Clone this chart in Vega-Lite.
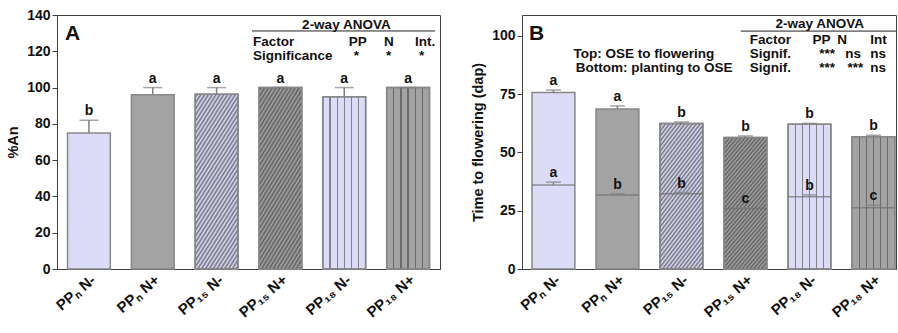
{
  "$schema": "https://vega.github.io/schema/vega-lite/v6.json",
  "padding": {"left": 5, "top": 7, "right": 0, "bottom": 0},
  "spacing": 29,
  "config": {
    "font": "Liberation Sans",
    "view": {"stroke": "#404040", "strokeWidth": 1},
    "axis": {"labelFont": "Liberation Sans", "titleFont": "Liberation Sans", "labelFontWeight": "bold", "titleFontWeight": "bold", "labelColor": "#111", "titleColor": "#111", "domainColor": "#404040", "tickColor": "#404040", "grid": false, "labelOverlap": false, "labelFlush": false},
    "axisY": {"labelFontSize": 14, "titleFontSize": 14.5, "tickSize": 5, "labelPadding": 2, "titlePadding": 6},
    "axisX": {"labelFontSize": 15, "ticks": false, "labelPadding": 3, "labelAngle": 320, "labelAlign": "right", "labelBaseline": "top"}
  },
  "datasets": {
    "a": [
      {"cat": "PPₙ N-", "pp": "PPN", "n": "N-", "v": 75, "upper": 82, "letter": "b"},
      {"cat": "PPₙ N+", "pp": "PPN", "n": "N+", "v": 96, "upper": 100, "letter": "a"},
      {"cat": "PP₁₅ N-", "pp": "PP15", "n": "N-", "v": 96.3, "upper": 100, "letter": "a"},
      {"cat": "PP₁₅ N+", "pp": "PP15", "n": "N+", "v": 100, "upper": 100, "letter": "a"},
      {"cat": "PP₁₈ N-", "pp": "PP18", "n": "N-", "v": 95, "upper": 100, "letter": "a"},
      {"cat": "PP₁₈ N+", "pp": "PP18", "n": "N+", "v": 100, "upper": 100, "letter": "a"}
    ],
    "b": [
      {"cat": "PPₙ N-", "pp": "PPN", "n": "N-", "t": 75.7, "tu": 76.8, "tl": "a", "bo": 36, "bu": 37.3, "bl": "a"},
      {"cat": "PPₙ N+", "pp": "PPN", "n": "N+", "t": 68.7, "tu": 70, "tl": "a", "bo": 31.8, "bu": 32.3, "bl": "b"},
      {"cat": "PP₁₅ N-", "pp": "PP15", "n": "N-", "t": 62.4, "tu": 63.1, "tl": "b", "bo": 32.3, "bu": 32.8, "bl": "b"},
      {"cat": "PP₁₅ N+", "pp": "PP15", "n": "N+", "t": 56.4, "tu": 57.1, "tl": "b", "bo": 26, "bu": 26.3, "bl": "c"},
      {"cat": "PP₁₈ N-", "pp": "PP18", "n": "N-", "t": 62.1, "tu": 62.5, "tl": "b", "bo": 31, "bu": 31.8, "bl": "b"},
      {"cat": "PP₁₈ N+", "pp": "PP18", "n": "N+", "t": 56.7, "tu": 57.4, "tl": "b", "bo": 26.3, "bu": 27.3, "bl": "c"}
    ],
    "annA": [
      {"x": 64.0, "y": 134.5, "t": "2-way ANOVA"},
      {"x": 51.2, "y": 125.1, "t": "Factor"},
      {"x": 76.2, "y": 125.1, "t": "PP"},
      {"x": 85.4, "y": 125.1, "t": "N"},
      {"x": 93.5, "y": 125.1, "t": "Int."},
      {"x": 51.2, "y": 117.4, "t": "Significance"},
      {"x": 77.5, "y": 117.4, "t": "*"},
      {"x": 85.9, "y": 117.4, "t": "*"},
      {"x": 94.5, "y": 117.4, "t": "*"}
    ],
    "annB": [
      {"x": 67.8, "y": 105.2, "t": "2-way ANOVA"},
      {"x": 60.9, "y": 98.3, "t": "Factor"},
      {"x": 77.7, "y": 98.3, "t": "PP"},
      {"x": 84.3, "y": 98.3, "t": "N"},
      {"x": 93.1, "y": 98.3, "t": "Int"},
      {"x": 13.8, "y": 92.3, "t": "Top: OSE to flowering"},
      {"x": 60.9, "y": 92.3, "t": "Signif."},
      {"x": 79.5, "y": 92.3, "t": "***"},
      {"x": 86.4, "y": 92.3, "t": "ns"},
      {"x": 93.1, "y": 92.3, "t": "ns"},
      {"x": 14.4, "y": 86.3, "t": "Bottom: planting to OSE"},
      {"x": 60.9, "y": 86.3, "t": "Signif."},
      {"x": 79.5, "y": 86.3, "t": "***"},
      {"x": 87.0, "y": 86.3, "t": "***"},
      {"x": 93.1, "y": 86.3, "t": "ns"}
    ]
  },
  "hconcat": [
    {
      "width": 383,
      "height": 254,
      "resolve": {"scale": {"x": "independent"}},
      "layer": [
        {
          "data": {"name": "a"},
          "encoding": {
            "x": {"field": "cat", "type": "nominal", "title": null, "scale": {"domain": ["PPₙ N-", "PPₙ N+", "PP₁₅ N-", "PP₁₅ N+", "PP₁₈ N-", "PP₁₈ N+"], "paddingInner": 0.33, "paddingOuter": 0.165}, "axis": {"labelAngle": 320, "labelAlign": "right", "labelBaseline": "top"}}
          },
          "layer": [
            {
              "mark": {"type": "bar", "stroke": "#888888", "strokeWidth": 1.5},
              "encoding": {
                "y": {"field": "v", "type": "quantitative", "title": "%An", "scale": {"domain": [0, 140], "nice": false}, "axis": {"values": [0, 20, 40, 60, 80, 100, 120, 140]}},
                "color": {"field": "n", "type": "nominal", "scale": {"domain": ["N-", "N+"], "range": ["#dcdcf9", "#a3a3a3"]}, "legend": null}
              }
            },
            {
              "transform": [{"filter": "datum.pp === 'PP15'"}],
              "mark": {"type": "bar", "stroke": "#888888", "strokeWidth": 1.5, "fill": {"gradient": "linear", "x1": 0, "y1": 0, "x2": 0.466, "y2": 1.2065, "stops": [
                {"offset": 0, "color": "rgba(60,60,60,0)"}, {"offset": 0.0125, "color": "rgba(60,60,60,0.65)"}, {"offset": 0.025, "color": "rgba(60,60,60,0)"}, {"offset": 0.0375, "color": "rgba(60,60,60,0.65)"}, {"offset": 0.05, "color": "rgba(60,60,60,0)"}, {"offset": 0.0625, "color": "rgba(60,60,60,0.65)"}, {"offset": 0.075, "color": "rgba(60,60,60,0)"}, {"offset": 0.0875, "color": "rgba(60,60,60,0.65)"}, {"offset": 0.1, "color": "rgba(60,60,60,0)"}, {"offset": 0.1125, "color": "rgba(60,60,60,0.65)"},
                {"offset": 0.125, "color": "rgba(60,60,60,0)"}, {"offset": 0.1375, "color": "rgba(60,60,60,0.65)"}, {"offset": 0.15, "color": "rgba(60,60,60,0)"}, {"offset": 0.1625, "color": "rgba(60,60,60,0.65)"}, {"offset": 0.175, "color": "rgba(60,60,60,0)"}, {"offset": 0.1875, "color": "rgba(60,60,60,0.65)"}, {"offset": 0.2, "color": "rgba(60,60,60,0)"}, {"offset": 0.2125, "color": "rgba(60,60,60,0.65)"}, {"offset": 0.225, "color": "rgba(60,60,60,0)"}, {"offset": 0.2375, "color": "rgba(60,60,60,0.65)"},
                {"offset": 0.25, "color": "rgba(60,60,60,0)"}, {"offset": 0.2625, "color": "rgba(60,60,60,0.65)"}, {"offset": 0.275, "color": "rgba(60,60,60,0)"}, {"offset": 0.2875, "color": "rgba(60,60,60,0.65)"}, {"offset": 0.3, "color": "rgba(60,60,60,0)"}, {"offset": 0.3125, "color": "rgba(60,60,60,0.65)"}, {"offset": 0.325, "color": "rgba(60,60,60,0)"}, {"offset": 0.3375, "color": "rgba(60,60,60,0.65)"}, {"offset": 0.35, "color": "rgba(60,60,60,0)"}, {"offset": 0.3625, "color": "rgba(60,60,60,0.65)"},
                {"offset": 0.375, "color": "rgba(60,60,60,0)"}, {"offset": 0.3875, "color": "rgba(60,60,60,0.65)"}, {"offset": 0.4, "color": "rgba(60,60,60,0)"}, {"offset": 0.4125, "color": "rgba(60,60,60,0.65)"}, {"offset": 0.425, "color": "rgba(60,60,60,0)"}, {"offset": 0.4375, "color": "rgba(60,60,60,0.65)"}, {"offset": 0.45, "color": "rgba(60,60,60,0)"}, {"offset": 0.4625, "color": "rgba(60,60,60,0.65)"}, {"offset": 0.475, "color": "rgba(60,60,60,0)"}, {"offset": 0.4875, "color": "rgba(60,60,60,0.65)"},
                {"offset": 0.5, "color": "rgba(60,60,60,0)"}, {"offset": 0.5125, "color": "rgba(60,60,60,0.65)"}, {"offset": 0.525, "color": "rgba(60,60,60,0)"}, {"offset": 0.5375, "color": "rgba(60,60,60,0.65)"}, {"offset": 0.55, "color": "rgba(60,60,60,0)"}, {"offset": 0.5625, "color": "rgba(60,60,60,0.65)"}, {"offset": 0.575, "color": "rgba(60,60,60,0)"}, {"offset": 0.5875, "color": "rgba(60,60,60,0.65)"}, {"offset": 0.6, "color": "rgba(60,60,60,0)"}, {"offset": 0.6125, "color": "rgba(60,60,60,0.65)"},
                {"offset": 0.625, "color": "rgba(60,60,60,0)"}, {"offset": 0.6375, "color": "rgba(60,60,60,0.65)"}, {"offset": 0.65, "color": "rgba(60,60,60,0)"}, {"offset": 0.6625, "color": "rgba(60,60,60,0.65)"}, {"offset": 0.675, "color": "rgba(60,60,60,0)"}, {"offset": 0.6875, "color": "rgba(60,60,60,0.65)"}, {"offset": 0.7, "color": "rgba(60,60,60,0)"}, {"offset": 0.7125, "color": "rgba(60,60,60,0.65)"}, {"offset": 0.725, "color": "rgba(60,60,60,0)"}, {"offset": 0.7375, "color": "rgba(60,60,60,0.65)"},
                {"offset": 0.75, "color": "rgba(60,60,60,0)"}, {"offset": 0.7625, "color": "rgba(60,60,60,0.65)"}, {"offset": 0.775, "color": "rgba(60,60,60,0)"}, {"offset": 0.7875, "color": "rgba(60,60,60,0.65)"}, {"offset": 0.8, "color": "rgba(60,60,60,0)"}, {"offset": 0.8125, "color": "rgba(60,60,60,0.65)"}, {"offset": 0.825, "color": "rgba(60,60,60,0)"}, {"offset": 0.8375, "color": "rgba(60,60,60,0.65)"}, {"offset": 0.85, "color": "rgba(60,60,60,0)"}, {"offset": 0.8625, "color": "rgba(60,60,60,0.65)"},
                {"offset": 0.875, "color": "rgba(60,60,60,0)"}, {"offset": 0.8875, "color": "rgba(60,60,60,0.65)"}, {"offset": 0.9, "color": "rgba(60,60,60,0)"}, {"offset": 0.9125, "color": "rgba(60,60,60,0.65)"}, {"offset": 0.925, "color": "rgba(60,60,60,0)"}, {"offset": 0.9375, "color": "rgba(60,60,60,0.65)"}, {"offset": 0.95, "color": "rgba(60,60,60,0)"}, {"offset": 0.9625, "color": "rgba(60,60,60,0.65)"}, {"offset": 0.975, "color": "rgba(60,60,60,0)"}, {"offset": 0.9875, "color": "rgba(60,60,60,0.65)"},
                {"offset": 1, "color": "rgba(60,60,60,0)"}
              ]}},
              "encoding": {"y": {"field": "v", "type": "quantitative", "title": "%An", "axis": {"values": [0, 20, 40, 60, 80, 100, 120, 140]}}}
            },
            {
              "transform": [{"filter": "datum.pp === 'PP18'"}],
              "mark": {"type": "bar", "stroke": "#888888", "strokeWidth": 1.5, "fill": {"gradient": "linear", "x1": 0, "y1": 0, "x2": 1, "y2": 0, "stops": [
                {"offset": 0, "color": "rgba(70,70,70,0)"},
                {"offset": 0.1527, "color": "rgba(70,70,70,0)"}, {"offset": 0.1527, "color": "rgba(70,70,70,0.6)"}, {"offset": 0.1807, "color": "rgba(70,70,70,0.6)"}, {"offset": 0.1807, "color": "rgba(70,70,70,0)"},
                {"offset": 0.3193, "color": "rgba(70,70,70,0)"}, {"offset": 0.3193, "color": "rgba(70,70,70,0.6)"}, {"offset": 0.3473, "color": "rgba(70,70,70,0.6)"}, {"offset": 0.3473, "color": "rgba(70,70,70,0)"},
                {"offset": 0.486, "color": "rgba(70,70,70,0)"}, {"offset": 0.486, "color": "rgba(70,70,70,0.6)"}, {"offset": 0.514, "color": "rgba(70,70,70,0.6)"}, {"offset": 0.514, "color": "rgba(70,70,70,0)"},
                {"offset": 0.6527, "color": "rgba(70,70,70,0)"}, {"offset": 0.6527, "color": "rgba(70,70,70,0.6)"}, {"offset": 0.6807, "color": "rgba(70,70,70,0.6)"}, {"offset": 0.6807, "color": "rgba(70,70,70,0)"},
                {"offset": 0.8193, "color": "rgba(70,70,70,0)"}, {"offset": 0.8193, "color": "rgba(70,70,70,0.6)"}, {"offset": 0.8473, "color": "rgba(70,70,70,0.6)"}, {"offset": 0.8473, "color": "rgba(70,70,70,0)"},
                {"offset": 1, "color": "rgba(70,70,70,0)"}
              ]}},
              "encoding": {"y": {"field": "v", "type": "quantitative", "title": "%An", "axis": {"values": [0, 20, 40, 60, 80, 100, 120, 140]}}}
            },
            {
              "mark": {"type": "rule", "color": "#808080", "strokeWidth": 1.5},
              "encoding": {"y": {"field": "v", "type": "quantitative", "title": "%An", "axis": {"values": [0, 20, 40, 60, 80, 100, 120, 140]}}, "y2": {"field": "upper"}}
            },
            {
              "mark": {"type": "tick", "color": "#808080", "thickness": 1.5, "size": 19},
              "encoding": {"y": {"field": "upper", "type": "quantitative", "title": "%An", "axis": {"values": [0, 20, 40, 60, 80, 100, 120, 140]}}}
            },
            {
              "mark": {"type": "text", "baseline": "bottom", "dy": -2, "fontSize": 14, "fontWeight": "bold", "color": "#111"},
              "encoding": {"y": {"field": "upper", "type": "quantitative", "title": "%An", "axis": {"values": [0, 20, 40, 60, 80, 100, 120, 140]}}, "text": {"field": "letter"}}
            }
          ]
        },
        {
          "layer": [
            {
              "data": {"name": "annA"},
              "mark": {"type": "text", "align": "left", "baseline": "middle", "fontSize": 13.5, "fontWeight": "bold", "color": "#111"},
              "encoding": {
                "x": {"field": "x", "type": "quantitative", "scale": {"domain": [0, 100], "nice": false, "zero": false}, "axis": null},
                "y": {"field": "y", "type": "quantitative", "title": "%An", "axis": {"values": [0, 20, 40, 60, 80, 100, 120, 140]}},
                "text": {"field": "t"}
              }
            },
            {
              "data": {"values": [{"x": 2.1, "y": 129.5, "t": "A"}]},
              "mark": {"type": "text", "align": "left", "baseline": "middle", "fontSize": 21, "fontWeight": "bold", "color": "#111"},
              "encoding": {
                "x": {"field": "x", "type": "quantitative", "scale": {"domain": [0, 100], "nice": false, "zero": false}, "axis": null},
                "y": {"field": "y", "type": "quantitative", "title": "%An", "axis": {"values": [0, 20, 40, 60, 80, 100, 120, 140]}},
                "text": {"field": "t"}
              }
            },
            {
              "data": {"values": [{"x": 50.9, "x2": 98.7, "y": 131.2}]},
              "mark": {"type": "rule", "color": "#222222", "strokeWidth": 1},
              "encoding": {
                "x": {"field": "x", "type": "quantitative", "scale": {"domain": [0, 100], "nice": false, "zero": false}, "axis": null},
                "x2": {"field": "x2"},
                "y": {"field": "y", "type": "quantitative", "title": "%An", "axis": {"values": [0, 20, 40, 60, 80, 100, 120, 140]}}
              }
            }
          ]
        }
      ]
    },
    {
      "width": 374,
      "height": 254,
      "resolve": {"scale": {"x": "independent"}},
      "layer": [
        {
          "data": {"name": "b"},
          "encoding": {
            "x": {"field": "cat", "type": "nominal", "title": null, "scale": {"domain": ["PPₙ N-", "PPₙ N+", "PP₁₅ N-", "PP₁₅ N+", "PP₁₈ N-", "PP₁₈ N+"], "paddingInner": 0.33, "paddingOuter": 0.087, "align": 0.9}, "axis": {"labelAngle": 320, "labelAlign": "right", "labelBaseline": "top"}}
          },
          "layer": [
            {
              "mark": {"type": "bar", "stroke": "#888888", "strokeWidth": 1.5},
              "encoding": {
                "y": {"field": "t", "type": "quantitative", "title": "Time to flowering (dap)", "scale": {"domain": [0, 109], "nice": false}, "axis": {"values": [0, 25, 50, 75, 100]}},
                "color": {"field": "n", "type": "nominal", "scale": {"domain": ["N-", "N+"], "range": ["#dcdcf9", "#a3a3a3"]}, "legend": null}
              }
            },
            {
              "transform": [{"filter": "datum.pp === 'PP15'"}],
              "mark": {"type": "bar", "stroke": "#888888", "strokeWidth": 1.5, "fill": {"gradient": "linear", "x1": 0, "y1": 0, "x2": 0.466, "y2": 1.2065, "stops": [
                {"offset": 0, "color": "rgba(60,60,60,0)"}, {"offset": 0.0125, "color": "rgba(60,60,60,0.65)"}, {"offset": 0.025, "color": "rgba(60,60,60,0)"}, {"offset": 0.0375, "color": "rgba(60,60,60,0.65)"}, {"offset": 0.05, "color": "rgba(60,60,60,0)"}, {"offset": 0.0625, "color": "rgba(60,60,60,0.65)"}, {"offset": 0.075, "color": "rgba(60,60,60,0)"}, {"offset": 0.0875, "color": "rgba(60,60,60,0.65)"}, {"offset": 0.1, "color": "rgba(60,60,60,0)"}, {"offset": 0.1125, "color": "rgba(60,60,60,0.65)"},
                {"offset": 0.125, "color": "rgba(60,60,60,0)"}, {"offset": 0.1375, "color": "rgba(60,60,60,0.65)"}, {"offset": 0.15, "color": "rgba(60,60,60,0)"}, {"offset": 0.1625, "color": "rgba(60,60,60,0.65)"}, {"offset": 0.175, "color": "rgba(60,60,60,0)"}, {"offset": 0.1875, "color": "rgba(60,60,60,0.65)"}, {"offset": 0.2, "color": "rgba(60,60,60,0)"}, {"offset": 0.2125, "color": "rgba(60,60,60,0.65)"}, {"offset": 0.225, "color": "rgba(60,60,60,0)"}, {"offset": 0.2375, "color": "rgba(60,60,60,0.65)"},
                {"offset": 0.25, "color": "rgba(60,60,60,0)"}, {"offset": 0.2625, "color": "rgba(60,60,60,0.65)"}, {"offset": 0.275, "color": "rgba(60,60,60,0)"}, {"offset": 0.2875, "color": "rgba(60,60,60,0.65)"}, {"offset": 0.3, "color": "rgba(60,60,60,0)"}, {"offset": 0.3125, "color": "rgba(60,60,60,0.65)"}, {"offset": 0.325, "color": "rgba(60,60,60,0)"}, {"offset": 0.3375, "color": "rgba(60,60,60,0.65)"}, {"offset": 0.35, "color": "rgba(60,60,60,0)"}, {"offset": 0.3625, "color": "rgba(60,60,60,0.65)"},
                {"offset": 0.375, "color": "rgba(60,60,60,0)"}, {"offset": 0.3875, "color": "rgba(60,60,60,0.65)"}, {"offset": 0.4, "color": "rgba(60,60,60,0)"}, {"offset": 0.4125, "color": "rgba(60,60,60,0.65)"}, {"offset": 0.425, "color": "rgba(60,60,60,0)"}, {"offset": 0.4375, "color": "rgba(60,60,60,0.65)"}, {"offset": 0.45, "color": "rgba(60,60,60,0)"}, {"offset": 0.4625, "color": "rgba(60,60,60,0.65)"}, {"offset": 0.475, "color": "rgba(60,60,60,0)"}, {"offset": 0.4875, "color": "rgba(60,60,60,0.65)"},
                {"offset": 0.5, "color": "rgba(60,60,60,0)"}, {"offset": 0.5125, "color": "rgba(60,60,60,0.65)"}, {"offset": 0.525, "color": "rgba(60,60,60,0)"}, {"offset": 0.5375, "color": "rgba(60,60,60,0.65)"}, {"offset": 0.55, "color": "rgba(60,60,60,0)"}, {"offset": 0.5625, "color": "rgba(60,60,60,0.65)"}, {"offset": 0.575, "color": "rgba(60,60,60,0)"}, {"offset": 0.5875, "color": "rgba(60,60,60,0.65)"}, {"offset": 0.6, "color": "rgba(60,60,60,0)"}, {"offset": 0.6125, "color": "rgba(60,60,60,0.65)"},
                {"offset": 0.625, "color": "rgba(60,60,60,0)"}, {"offset": 0.6375, "color": "rgba(60,60,60,0.65)"}, {"offset": 0.65, "color": "rgba(60,60,60,0)"}, {"offset": 0.6625, "color": "rgba(60,60,60,0.65)"}, {"offset": 0.675, "color": "rgba(60,60,60,0)"}, {"offset": 0.6875, "color": "rgba(60,60,60,0.65)"}, {"offset": 0.7, "color": "rgba(60,60,60,0)"}, {"offset": 0.7125, "color": "rgba(60,60,60,0.65)"}, {"offset": 0.725, "color": "rgba(60,60,60,0)"}, {"offset": 0.7375, "color": "rgba(60,60,60,0.65)"},
                {"offset": 0.75, "color": "rgba(60,60,60,0)"}, {"offset": 0.7625, "color": "rgba(60,60,60,0.65)"}, {"offset": 0.775, "color": "rgba(60,60,60,0)"}, {"offset": 0.7875, "color": "rgba(60,60,60,0.65)"}, {"offset": 0.8, "color": "rgba(60,60,60,0)"}, {"offset": 0.8125, "color": "rgba(60,60,60,0.65)"}, {"offset": 0.825, "color": "rgba(60,60,60,0)"}, {"offset": 0.8375, "color": "rgba(60,60,60,0.65)"}, {"offset": 0.85, "color": "rgba(60,60,60,0)"}, {"offset": 0.8625, "color": "rgba(60,60,60,0.65)"},
                {"offset": 0.875, "color": "rgba(60,60,60,0)"}, {"offset": 0.8875, "color": "rgba(60,60,60,0.65)"}, {"offset": 0.9, "color": "rgba(60,60,60,0)"}, {"offset": 0.9125, "color": "rgba(60,60,60,0.65)"}, {"offset": 0.925, "color": "rgba(60,60,60,0)"}, {"offset": 0.9375, "color": "rgba(60,60,60,0.65)"}, {"offset": 0.95, "color": "rgba(60,60,60,0)"}, {"offset": 0.9625, "color": "rgba(60,60,60,0.65)"}, {"offset": 0.975, "color": "rgba(60,60,60,0)"}, {"offset": 0.9875, "color": "rgba(60,60,60,0.65)"},
                {"offset": 1, "color": "rgba(60,60,60,0)"}
              ]}},
              "encoding": {"y": {"field": "t", "type": "quantitative", "title": "Time to flowering (dap)", "axis": {"values": [0, 25, 50, 75, 100]}}}
            },
            {
              "transform": [{"filter": "datum.pp === 'PP18'"}],
              "mark": {"type": "bar", "stroke": "#888888", "strokeWidth": 1.5, "fill": {"gradient": "linear", "x1": 0, "y1": 0, "x2": 1, "y2": 0, "stops": [
                {"offset": 0, "color": "rgba(70,70,70,0)"},
                {"offset": 0.1527, "color": "rgba(70,70,70,0)"}, {"offset": 0.1527, "color": "rgba(70,70,70,0.6)"}, {"offset": 0.1807, "color": "rgba(70,70,70,0.6)"}, {"offset": 0.1807, "color": "rgba(70,70,70,0)"},
                {"offset": 0.3193, "color": "rgba(70,70,70,0)"}, {"offset": 0.3193, "color": "rgba(70,70,70,0.6)"}, {"offset": 0.3473, "color": "rgba(70,70,70,0.6)"}, {"offset": 0.3473, "color": "rgba(70,70,70,0)"},
                {"offset": 0.486, "color": "rgba(70,70,70,0)"}, {"offset": 0.486, "color": "rgba(70,70,70,0.6)"}, {"offset": 0.514, "color": "rgba(70,70,70,0.6)"}, {"offset": 0.514, "color": "rgba(70,70,70,0)"},
                {"offset": 0.6527, "color": "rgba(70,70,70,0)"}, {"offset": 0.6527, "color": "rgba(70,70,70,0.6)"}, {"offset": 0.6807, "color": "rgba(70,70,70,0.6)"}, {"offset": 0.6807, "color": "rgba(70,70,70,0)"},
                {"offset": 0.8193, "color": "rgba(70,70,70,0)"}, {"offset": 0.8193, "color": "rgba(70,70,70,0.6)"}, {"offset": 0.8473, "color": "rgba(70,70,70,0.6)"}, {"offset": 0.8473, "color": "rgba(70,70,70,0)"},
                {"offset": 1, "color": "rgba(70,70,70,0)"}
              ]}},
              "encoding": {"y": {"field": "t", "type": "quantitative", "title": "Time to flowering (dap)", "axis": {"values": [0, 25, 50, 75, 100]}}}
            },
            {
              "mark": {"type": "tick", "color": "#6e6e6e", "thickness": 1.5, "size": 43},
              "encoding": {"y": {"field": "bo", "type": "quantitative", "title": "Time to flowering (dap)", "axis": {"values": [0, 25, 50, 75, 100]}}}
            },
            {
              "mark": {"type": "rule", "color": "#808080", "strokeWidth": 1.5},
              "encoding": {"y": {"field": "t", "type": "quantitative", "title": "Time to flowering (dap)", "axis": {"values": [0, 25, 50, 75, 100]}}, "y2": {"field": "tu"}}
            },
            {
              "mark": {"type": "tick", "color": "#808080", "thickness": 1.5, "size": 15},
              "encoding": {"y": {"field": "tu", "type": "quantitative", "title": "Time to flowering (dap)", "axis": {"values": [0, 25, 50, 75, 100]}}}
            },
            {
              "mark": {"type": "text", "baseline": "bottom", "dy": -2, "fontSize": 14, "fontWeight": "bold", "color": "#111"},
              "encoding": {"y": {"field": "tu", "type": "quantitative", "title": "Time to flowering (dap)", "axis": {"values": [0, 25, 50, 75, 100]}}, "text": {"field": "tl"}}
            },
            {
              "mark": {"type": "rule", "color": "#808080", "strokeWidth": 1.5},
              "encoding": {"y": {"field": "bo", "type": "quantitative", "title": "Time to flowering (dap)", "axis": {"values": [0, 25, 50, 75, 100]}}, "y2": {"field": "bu"}}
            },
            {
              "mark": {"type": "tick", "color": "#808080", "thickness": 1.5, "size": 15},
              "encoding": {"y": {"field": "bu", "type": "quantitative", "title": "Time to flowering (dap)", "axis": {"values": [0, 25, 50, 75, 100]}}}
            },
            {
              "mark": {"type": "text", "baseline": "bottom", "dy": -2, "fontSize": 14, "fontWeight": "bold", "color": "#111"},
              "encoding": {"y": {"field": "bu", "type": "quantitative", "title": "Time to flowering (dap)", "axis": {"values": [0, 25, 50, 75, 100]}}, "text": {"field": "bl"}}
            }
          ]
        },
        {
          "layer": [
            {
              "data": {"name": "annB"},
              "mark": {"type": "text", "align": "left", "baseline": "middle", "fontSize": 13.5, "fontWeight": "bold", "color": "#111"},
              "encoding": {
                "x": {"field": "x", "type": "quantitative", "scale": {"domain": [0, 100], "nice": false, "zero": false}, "axis": null},
                "y": {"field": "y", "type": "quantitative", "title": "Time to flowering (dap)", "axis": {"values": [0, 25, 50, 75, 100]}},
                "text": {"field": "t"}
              }
            },
            {
              "data": {"values": [{"x": 1.9, "y": 100.9, "t": "B"}]},
              "mark": {"type": "text", "align": "left", "baseline": "middle", "fontSize": 21, "fontWeight": "bold", "color": "#111"},
              "encoding": {
                "x": {"field": "x", "type": "quantitative", "scale": {"domain": [0, 100], "nice": false, "zero": false}, "axis": null},
                "y": {"field": "y", "type": "quantitative", "title": "Time to flowering (dap)", "axis": {"values": [0, 25, 50, 75, 100]}},
                "text": {"field": "t"}
              }
            },
            {
              "data": {"values": [{"x": 58.5, "x2": 100, "y": 102.1}]},
              "mark": {"type": "rule", "color": "#222222", "strokeWidth": 1},
              "encoding": {
                "x": {"field": "x", "type": "quantitative", "scale": {"domain": [0, 100], "nice": false, "zero": false}, "axis": null},
                "x2": {"field": "x2"},
                "y": {"field": "y", "type": "quantitative", "title": "Time to flowering (dap)", "axis": {"values": [0, 25, 50, 75, 100]}}
              }
            }
          ]
        }
      ]
    }
  ]
}
